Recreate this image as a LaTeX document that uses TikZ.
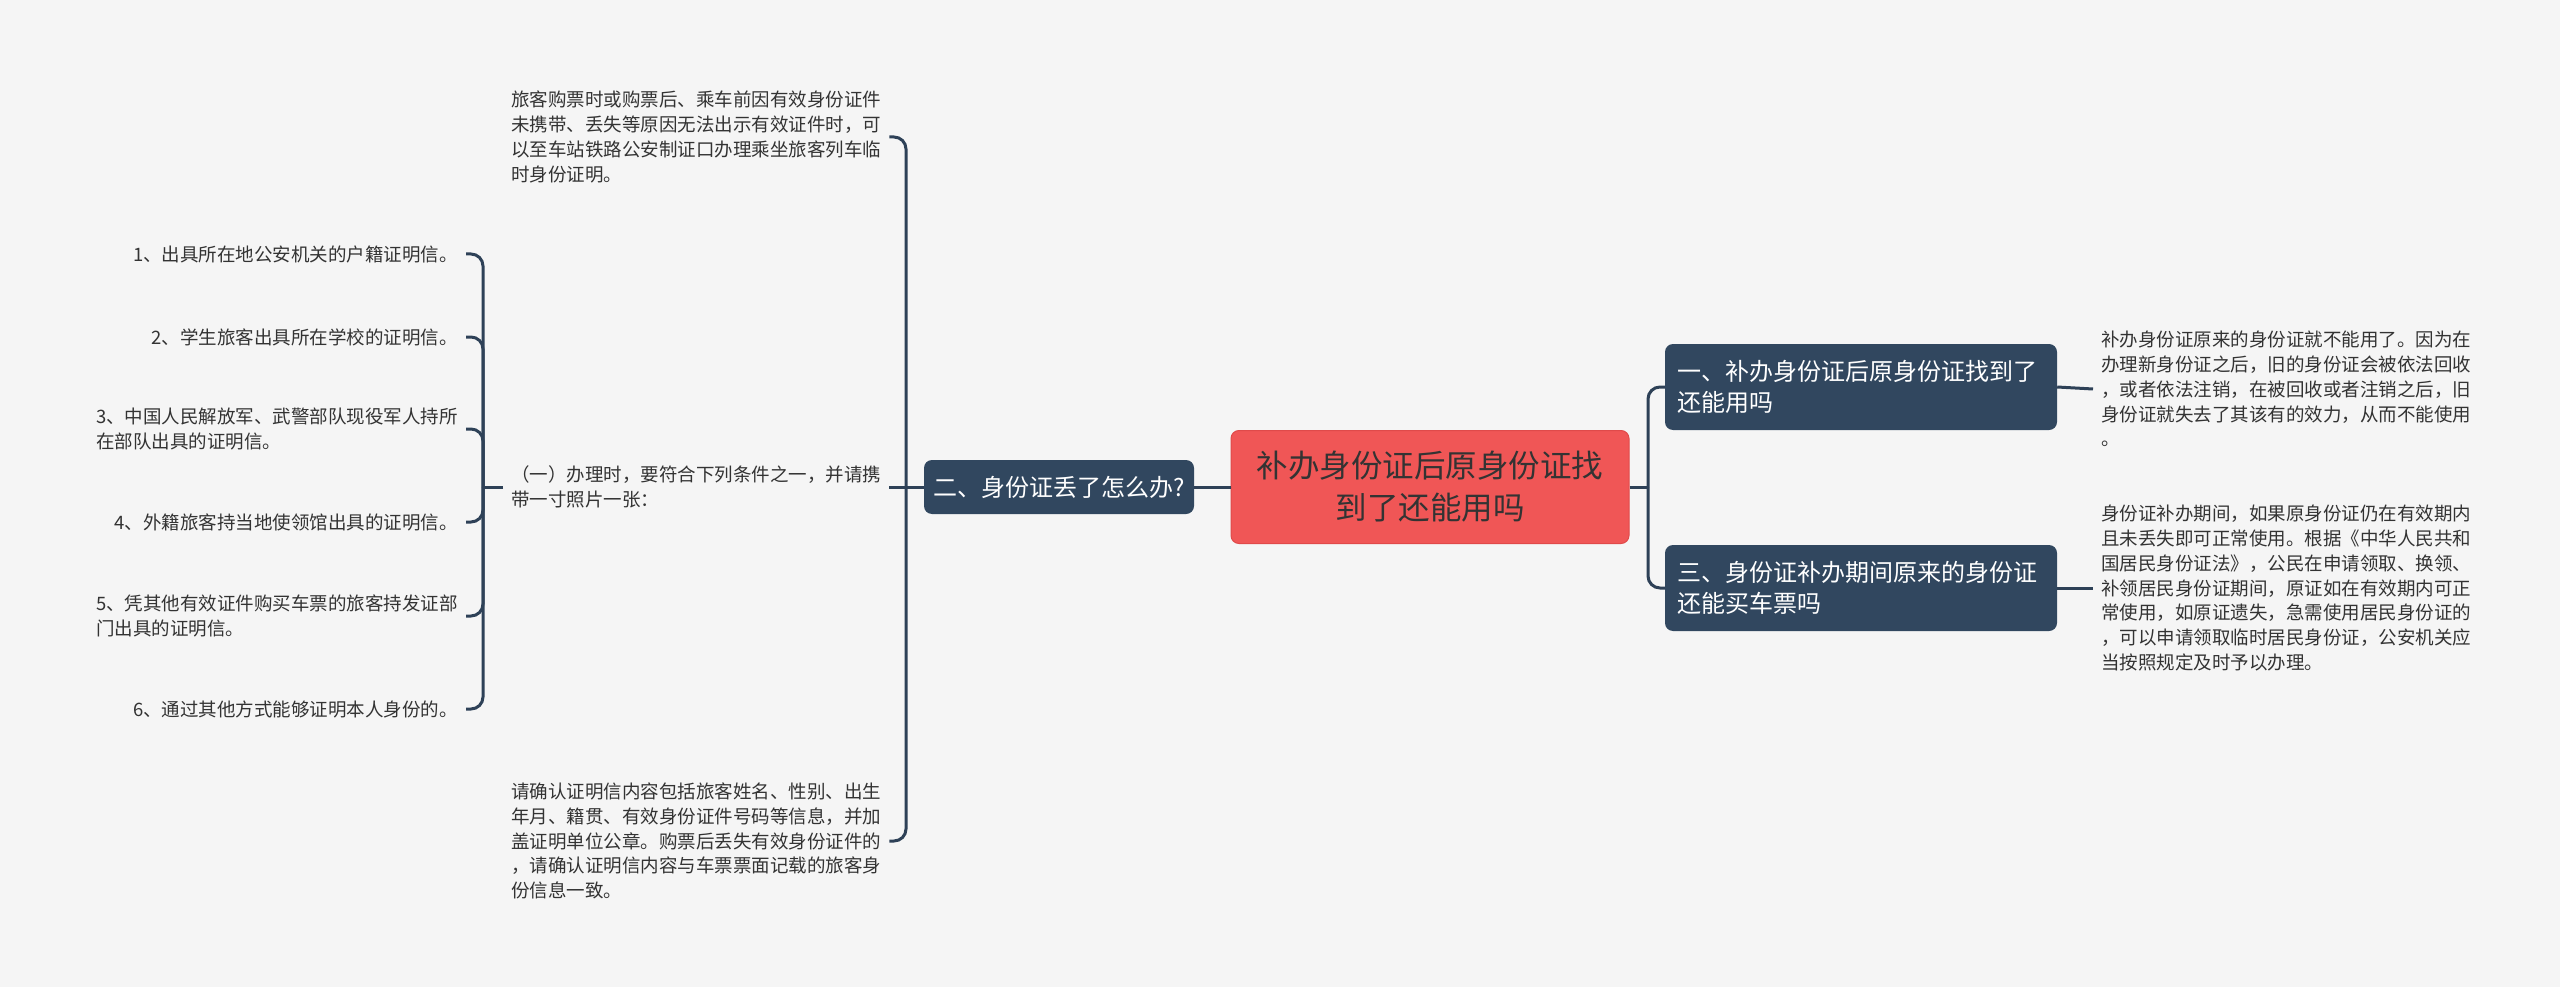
\documentclass[tikz,border=0pt]{standalone}
\usepackage{fontspec}
\setmainfont{Noto Sans CJK SC}
\definecolor{bgc}{HTML}{F5F5F5}
\definecolor{connc}{HTML}{2E4157}
\definecolor{darkc}{HTML}{31475F}
\definecolor{redc}{HTML}{F05656}
\definecolor{redb}{HTML}{E04A4A}
\definecolor{txtc}{HTML}{333333}
\tikzset{
  link/.style={draw=connc, line width=3pt},
  hooklink/.style={link, rounded corners=12pt},
  small/.style={font=\fontsize{18.5pt}{24.8pt}\selectfont, text=txtc, inner xsep=8pt, inner ysep=4pt},
  rootbox/.style={fill=redc, draw=redb, line width=1pt, rounded corners=8pt, minimum width=398pt, minimum height=113pt, align=center, text=txtc, font=\fontsize{31.5pt}{42pt}\selectfont},
  subbox/.style={fill=darkc, rounded corners=8pt, text=white, font=\fontsize{24pt}{31pt}\selectfont},
}
\begin{document}
\begin{tikzpicture}[x=1pt,y=-1pt]
\fill[bgc] (0,0) rectangle (2560,987);
\useasboundingbox (0,0) rectangle (2560,987);

% central
\node[rootbox] (c) at (1430,487) {补办身份证后原身份证找\\到了还能用吗};

% left main branch
\node[subbox, minimum width=270pt, minimum height=54pt] (n2) at (1059,487) {二、身份证丢了怎么办?};

\node[small, anchor=west, align=left] (tl) at (503,137) {旅客购票时或购票后、乘车前因有效身份证件\\未携带、丢失等原因无法出示有效证件时，可\\以至车站铁路公安制证口办理乘坐旅客列车临\\时身份证明。};
\node[small, anchor=west, align=left] (mid) at (503,487) {（一）办理时，要符合下列条件之一，并请携\\带一寸照片一张：};
\node[small, anchor=west, align=left] (bl) at (503,841) {请确认证明信内容包括旅客姓名、性别、出生\\年月、籍贯、有效身份证件号码等信息，并加\\盖证明单位公章。购票后丢失有效身份证件的\\，请确认证明信内容与车票票面记载的旅客身\\份信息一致。};

% items
\node[small, anchor=east, align=right] (i1) at (466,254) {1、出具所在地公安机关的户籍证明信。};
\node[small, anchor=east, align=right] (i2) at (466,337) {2、学生旅客出具所在学校的证明信。};
\node[small, anchor=east, align=left] (i3) at (466,429) {3、中国人民解放军、武警部队现役军人持所\\在部队出具的证明信。};
\node[small, anchor=east, align=right] (i4) at (466,522) {4、外籍旅客持当地使领馆出具的证明信。};
\node[small, anchor=east, align=left] (i5) at (466,616) {5、凭其他有效证件购买车票的旅客持发证部\\门出具的证明信。};
\node[small, anchor=east, align=right] (i6) at (466,709) {6、通过其他方式能够证明本人身份的。};

% right branches
\node[subbox, minimum width=392pt, minimum height=86pt, text width=368pt, inner xsep=12pt, align=left] (r1) at (1861,387) {一、补办身份证后原身份证找到了\\还能用吗};
\node[subbox, minimum width=392pt, minimum height=86pt, text width=368pt, inner xsep=12pt, align=left] (r3) at (1861,588) {三、身份证补办期间原来的身份证\\还能买车票吗};

\node[small, anchor=west, align=left] (t1) at (2093,389) {补办身份证原来的身份证就不能用了。因为在\\办理新身份证之后，旧的身份证会被依法回收\\，或者依法注销，在被回收或者注销之后，旧\\身份证就失去了其该有的效力，从而不能使用\\。};
\node[small, anchor=west, align=left] (t3) at (2093,588) {身份证补办期间，如果原身份证仍在有效期内\\且未丢失即可正常使用。根据《中华人民共和\\国居民身份证法》，公民在申请领取、换领、\\补领居民身份证期间，原证如在有效期内可正\\常使用，如原证遗失，急需使用居民身份证的\\，可以申请领取临时居民身份证，公安机关应\\当按照规定及时予以办理。};

% connectors
\coordinate (jl) at (906,487);
\coordinate (jm) at (483,487);
\coordinate (jr) at (1648,487);

\draw[link] (c.west) -- (n2.east);
\draw[link] (n2.west) -- (mid.east);
\draw[hooklink] (jl) |- (tl.east);
\draw[hooklink] (jl) |- (bl.east);
\draw[link] (mid.west) -- (jm);
\foreach \k in {i1,i2,i3,i4,i5,i6} {\draw[hooklink] (jm) |- (\k.east);}

\draw[link] (c.east) -- (jr);
\draw[hooklink] (jr) |- (r1.west);
\draw[hooklink] (jr) |- (r3.west);
\draw[link] (r1.east) -- (t1.west);
\draw[link] (r3.east) -- (t3.west);
\end{tikzpicture}
\end{document}
